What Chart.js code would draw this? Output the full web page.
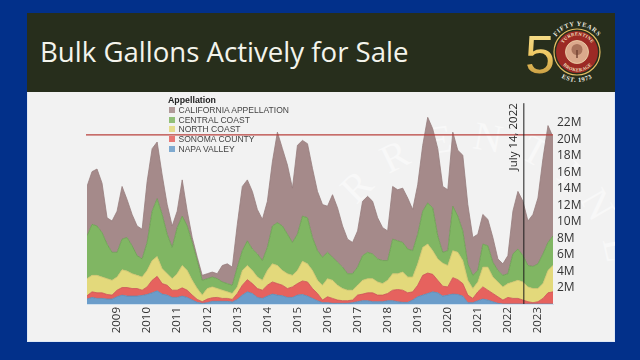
<!DOCTYPE html>
<html lang="en">
<head>
<meta charset="UTF-8">
<title>Bulk Gallons Actively for Sale</title>
<script src="https://cdn.jsdelivr.net/npm/chart.js"></script>
<style>
    html, body { margin: 0; padding: 0; }
    body { width: 640px; height: 360px; background: #02308a; overflow: hidden; position: relative; font-family: 'Open Sans', sans-serif; }
    #header { position: absolute; left: 27px; top: 13px; width: 588px; height: 79px; background: #272e1c; }
    #title { position: absolute; left: 13px; top: 20px; color: #f4f4ec; font-size: 27.6px; line-height: 36px; white-space: nowrap; }
    #panel { position: absolute; left: 27px; top: 92px; width: 588px; height: 250px; background: #f2f2f2; box-shadow: inset 1px 0 0 #dfe8f5, inset -1px -1px 0 #dfe8f5; }
    #panel svg, #panel canvas { position: absolute; left: 0; top: 0; }
    #logo { position: absolute; left: 515px; top: 20px; }
    #legend { position: absolute; left: 141px; top: 4px; font-family: 'Liberation Sans', sans-serif; font-size: 8.55px; line-height: 9.8px; color: #444; }
    #legend b { color: #222; display: block; font-size: 8.8px; }
    #legend i { display: inline-block; width: 6px; height: 6px; margin: 0 3.5px 0 1px; opacity: 0.85; }
</style>
</head>
<body>

<div id="header"><div id="title">Bulk Gallons Actively for Sale</div></div>

<!-- Seal -->
<svg id="logo" width="100" height="72" viewBox="0 0 100 72">
    <defs>
        <linearGradient id="gold" x1="0" y1="0" x2="0" y2="1">
            <stop offset="0" stop-color="#f8e79c"/>
            <stop offset="0.5" stop-color="#efc965"/>
            <stop offset="1" stop-color="#b98c34"/>
        </linearGradient>
        <path id="arcTop" d="M 36 32 A 26 26 0 0 1 88 32"/>
        <path id="arcBottom" d="M 32 32 A 30 30 0 0 0 92 32"/>
        <path id="ringTop" d="M 46 32 A 16.5 16.5 0 0 1 79 32"/>
        <path id="ringBottom" d="M 43 32 A 19.5 19.5 0 0 0 82 32"/>
    </defs>
    <text x="10" y="53" font-family="Liberation Sans" font-size="54" fill="url(#gold)">5</text>
    <circle cx="62" cy="32" r="23" fill="none" stroke="#e2bd62" stroke-width="1.2"/>
    <circle cx="62" cy="32" r="21" fill="#9c2a25"/>
    <circle cx="62" cy="32" r="11.5" fill="#dba98c" stroke="#f0d9b0" stroke-width="0.8"/>
    <circle cx="62" cy="29.5" r="5.5" fill="#a9735c"/>
    <rect x="61.3" y="30" width="1.4" height="8" fill="#6f3f30"/>
    <text font-family="Liberation Serif" font-size="4.6" font-weight="bold" fill="#f3e4c4" letter-spacing="0.3"><textPath href="#ringTop" startOffset="50%" text-anchor="middle">TURRENTINE</textPath></text>
    <text font-family="Liberation Serif" font-size="4.6" font-weight="bold" fill="#f3e4c4" letter-spacing="0.3"><textPath href="#ringBottom" startOffset="50%" text-anchor="middle">BROKERAGE</textPath></text>
    <text font-family="Liberation Serif" font-size="6.4" font-weight="bold" fill="#f2efe2" letter-spacing="0.6"><textPath href="#arcTop" startOffset="50%" text-anchor="middle">FIFTY YEARS</textPath></text>
    <text font-family="Liberation Serif" font-size="6.4" font-weight="bold" fill="#f2efe2" letter-spacing="0.6"><textPath href="#arcBottom" startOffset="50%" text-anchor="middle">EST. 1973</textPath></text>
</svg>

<div id="panel">
    <!-- Watermark -->
    <svg width="588" height="250" viewBox="0 0 588 250">
        <defs><path id="wm" d="M 303 198 A 140 140 0 0 1 583 198"/></defs>
        <text font-family="Liberation Serif" font-size="40" fill="#f8f8f8" letter-spacing="18"><textPath href="#wm">TURRENTINE</textPath></text>
    </svg>
    <canvas id="gallonsChart" width="588" height="250"></canvas>
    <div id="legend"></div>
</div>

<script>
  // Millions of gallons, one reading every two months from Jan 2008
  const napaValley = [
    .6,.8,.68,.68,.6,.6,.88,1.08,.96,.96,.96,1.04,1.16,1.36,1.6,1.2,1.08,.8,.8,.96,.8,.48,.2,.08,
    .16,.32,.32,.32,.32,.24,.56,1.08,1.48,1.28,.8,.68,.96,1.2,1.08,1,.8,.8,1.08,1.16,.96,.68,.4,.16,
    .16,.08,.08,.08,.08,.16,.28,.4,.4,.28,.28,.28,.4,.4,.28,.2,.2,.48,.88,1.08,1.28,1.48,1.36,.96,
    1.08,1.2,1.16,.96,.16,.16,.4,.6,.48,.28,.08,0,0,0,0,0,0,0,0,0,0,0
  ];
  const sonomaCounty = [
    .4,.68,.68,.68,.56,.48,.8,.92,1.04,.92,.92,.64,.92,1.52,1.76,1.28,1.2,.88,.88,1,.88,.6,.36,.2,
    .44,.44,.48,.36,.36,.32,.72,1.2,1.48,1.2,1.08,1,1.32,1.48,1.4,1.28,1.08,1.28,1.4,1.64,1.72,1.2,.88,.32,
    .72,.6,.4,.32,.32,.32,.8,.8,.96,1.08,.8,.8,.88,1.28,1.48,1.48,1.16,1,1.4,2.4,2.48,2.12,1.52,1.2,
    1,2,1.8,1.52,.92,.52,1.08,1.48,1.2,1,.8,.48,.8,.68,.68,.48,.28,.16,.28,.68,1.36,1.48
  ];
  const northCoast = [
    2.08,2,2.12,1.92,1.92,1.8,1.6,2.16,2,1.8,1.6,1.6,2,2.4,2.4,1.8,1.4,1.4,2,2.72,2.4,1.8,1.32,.8,
    1.28,1.32,1.08,1,.8,.72,.8,1.8,1.72,1.6,1.4,1.2,1.8,2.2,2.2,1.8,1.8,1.4,1.6,2.4,2.2,2.2,1.6,1.8,
    2.2,2.2,1.8,1.48,1.28,1.2,1.2,1.68,1.72,1.72,1.6,1.4,1.6,2,1.92,2.2,1.92,1.8,2.6,3.4,3.52,2.88,2.6,2.8,
    2.6,3.28,3.32,2.8,1.8,1.2,1.2,2.4,2.8,2,1.8,1.6,1.68,2,2.2,2.2,1.8,1.72,1.6,1.8,2.72,3.2
  ];
  const centralCoast = [
    5.2,6.2,6,5.4,4.2,3.4,3,3.72,4.08,3.4,2.4,2.2,3.4,6,7.04,6.6,4.8,3.8,5.6,6,5.4,4.6,3.4,1.8,
    1.2,1.2,1.2,1,1,1,2.4,2.4,3,2.6,2.8,2.4,2.8,4.6,5.2,5.4,4.8,4,4.4,5.48,5.6,4,3.6,3.4,
    3.2,2.8,2.8,2.6,2,2,2.2,3,3.2,3,2.8,2.8,2.4,4.2,4,3.6,3.4,3.2,3.6,4.4,5,5.2,2.8,1.32,
    1.8,5.4,4.4,3.6,2,1.6,1.4,2.8,2.6,1.8,1.4,1.4,1.2,3.4,3.8,3.2,2.6,2.68,3,3.6,3.4,3.6
  ];
  const californiaAppellation = [
    6,6.4,6.92,6,3.2,3.8,5,6.4,4.6,3.8,3.6,3.6,7.4,7.6,6.88,4.8,3.6,2.6,2,4.4,1.8,.6,.4,.6,
    .6,.6,.6,2,2.4,2.2,5.2,7.8,7.4,7,5.4,5,5.6,7.8,11,9.4,8.4,6.6,10.8,9.2,9,8.4,7.2,6.4,
    5.6,7.6,6.6,5,4.2,3.8,4.4,6.6,6.8,6.4,5,4,3.6,6.4,6.2,6.6,6.2,5,6,8,10.4,9.6,10.6,8,
    7.4,9,8,9.2,7.2,4.6,4.4,3.6,3.2,3,1.4,1.4,2.2,5.2,7,6.6,5.4,6.32,8,11.6,14.2,12
  ];

  const seriesNames = ['NAPA VALLEY', 'SONOMA COUNTY', 'NORTH COAST', 'CENTRAL COAST', 'CALIFORNIA APPELLATION'];
  const seriesValues = [napaValley, sonomaCounty, northCoast, centralCoast, californiaAppellation];
  const fillColors = ['#6b9dca', '#e6625e', '#e3d97b', '#80b663', '#a58a8a'];
  const lineColors = ['#5d88b0', '#c95552', '#c9c06b', '#6a9a50', '#957c7c'];

  const yearTicks = [2009, 2010, 2011, 2012, 2013, 2014, 2015, 2016, 2017, 2018, 2019, 2020, 2021, 2022, 2023];
  const gallonTicks = [2, 4, 6, 8, 10, 12, 14, 16, 18, 20, 22];
  const referenceGallons = 20.55;
  const markerYear = 2022.53;
  const markerLabel = 'July 14, 2022';

  // x position of each reading, in years
  const sampleYears = napaValley.map((v, i) => 2008 + i / 6);

  // Legend lists the top layer first
  const legend = document.getElementById('legend');
  legend.innerHTML = '<b>Appellation</b>' + seriesNames.map((name, i) =>
      `<div><i style="background:${fillColors[i]}"></i>${name}</div>`).reverse().join('');

  // Red reference line, dated marker and its label
  const markerPlugin = {
      id: 'markers',
      afterDatasetsDraw(chart) {
          const { ctx, chartArea, scales } = chart;
          const y = scales.y.getPixelForValue(referenceGallons);
          const x = scales.x.getPixelForValue(markerYear);
          ctx.save();
          ctx.strokeStyle = '#b8403c';
          ctx.lineWidth = 1.3;
          ctx.beginPath();
          ctx.moveTo(chartArea.left - 1, y);
          ctx.lineTo(chartArea.right, y);
          ctx.stroke();
          ctx.strokeStyle = '#1c1c1c';
          ctx.lineWidth = 1;
          ctx.beginPath();
          ctx.moveTo(x, chartArea.top);
          ctx.lineTo(x, chartArea.bottom);
          ctx.stroke();
          ctx.translate(x - 4, chartArea.top);
          ctx.rotate(-Math.PI / 2);
          ctx.fillStyle = '#222';
          ctx.font = "11.5px 'Open Sans'";
          ctx.textAlign = 'right';
          ctx.textBaseline = 'bottom';
          ctx.fillText(markerLabel, 0, 0);
          ctx.restore();
      }
  };

  new Chart(document.getElementById('gallonsChart'), {
      type: 'line',
      data: {
          datasets: seriesValues.map((values, i) => ({
              label: seriesNames[i],
              data: values.map((v, j) => ({ x: sampleYears[j], y: v })),
              backgroundColor: fillColors[i],
              borderColor: lineColors[i],
              borderWidth: 0.8,
              pointRadius: 0,
              tension: 0,
              fill: i === 0 ? 'origin' : '-1'
          }))
      },
      options: {
          responsive: false,
          animation: false,
          layout: { padding: { left: 60, top: 10, right: 0, bottom: 0 } },
          plugins: { legend: { display: false }, tooltip: { enabled: false } },
          scales: {
              x: {
                  type: 'linear',
                  min: 2008,
                  max: 2023.5,
                  grid: { display: false, drawTicks: false },
                  border: { color: '#cfe0ee' },
                  afterBuildTicks(scale) { scale.ticks = yearTicks.map(v => ({ value: v })); },
                  afterFit(scale) { scale.height = 38; },
                  ticks: {
                      autoSkip: false,
                      minRotation: 90,
                      maxRotation: 90,
                      padding: 3,
                      color: '#333',
                      font: { family: "'Open Sans'", size: 11.5 },
                      callback: v => String(v)
                  }
              },
              y: {
                  position: 'right',
                  stacked: true,
                  min: 0,
                  max: 24.4,
                  grid: { display: false, drawTicks: false },
                  border: { display: false },
                  afterBuildTicks(scale) { scale.ticks = gallonTicks.map(v => ({ value: v })); },
                  afterFit(scale) { scale.width = 62; },
                  ticks: {
                      autoSkip: false,
                      padding: 4,
                      color: '#333',
                      font: { family: "'Open Sans'", size: 12 },
                      callback: v => v + 'M'
                  }
              }
          }
      },
      plugins: [markerPlugin]
  });
</script>

</body>
</html>
